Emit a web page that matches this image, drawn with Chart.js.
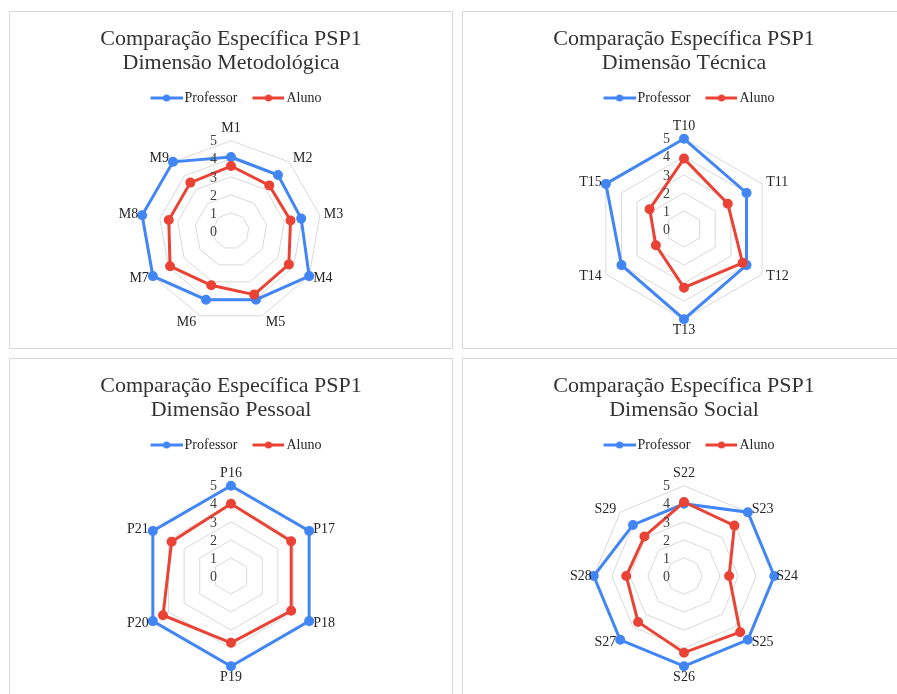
<!DOCTYPE html>
<html>
<head>
<meta charset="utf-8">
<script src="https://cdn.jsdelivr.net/npm/chart.js@4.4.0/dist/chart.umd.min.js"></script>
<style>
html, body { margin: 0; padding: 0; background: #fff; width: 897px; height: 694px; overflow: hidden; }
.panel { position: absolute; width: 442px; height: 336px; border: 1px solid #d9d9d9; background: #fff; }
.panel canvas { display: block; }
</style>
</head>
<body>
<div class="panel" style="left:9px;top:11px"><canvas id="chartMetod" width="442" height="336"></canvas></div>
<div class="panel" style="left:462px;top:11px"><canvas id="chartTecn" width="442" height="336"></canvas></div>
<div class="panel" style="left:9px;top:358px"><canvas id="chartPess" width="442" height="336"></canvas></div>
<div class="panel" style="left:462px;top:358px"><canvas id="chartSoc" width="442" height="336"></canvas></div>
<script>
'use strict';

// Dimensão Metodológica
const metodLabels = ['M1', 'M2', 'M3', 'M4', 'M5', 'M6', 'M7', 'M8', 'M9'];
const metodProfessor = [4.1, 4.05, 3.95, 5, 4.05, 4.05, 5, 5, 5];
const metodAluno = [3.6, 3.3, 3.35, 3.7, 3.75, 3.2, 3.9, 3.5, 3.5];

// Dimensão Técnica
const tecnLabels = ['T10', 'T11', 'T12', 'T13', 'T14', 'T15'];
const tecnProfessor = [5, 4, 4, 5, 4, 5];
const tecnAluno = [3.9, 2.8, 3.75, 3.25, 1.8, 2.2];

// Dimensão Pessoal
const pessLabels = ['P16', 'P17', 'P18', 'P19', 'P20', 'P21'];
const pessProfessor = [5, 5, 5, 5, 5, 5];
const pessAluno = [4.0, 3.85, 3.85, 3.7, 4.35, 3.8];

// Dimensão Social
const socLabels = ['S22', 'S23', 'S24', 'S25', 'S26', 'S27', 'S28', 'S29'];
const socProfessor = [4, 5, 5, 5, 5, 5, 5, 4];
const socAluno = [4.1, 3.95, 2.5, 4.4, 4.25, 3.6, 3.2, 3.1];

const scaleTicks = [0, 1, 2, 3, 4, 5];

const BLUE = '#4285F4';
const RED = '#EA4335';
const SERIF = '"Liberation Serif", "Times New Roman", serif';

// Excel-like legend marker: a line with a dot in the middle.
// Left part of the image is transparent so the line sits right before the text.
function legendMarker(color) {
    const c = document.createElement('canvas');
    c.width = 47;
    c.height = 10;
    const g = c.getContext('2d');
    g.strokeStyle = color;
    g.lineWidth = 3;
    g.beginPath();
    g.moveTo(15, 5);
    g.lineTo(47, 5);
    g.stroke();
    g.fillStyle = color;
    g.beginPath();
    g.arc(31, 5, 3.5, 0, Math.PI * 2);
    g.fill();
    return c;
}

// tick labels sit to the left of the vertical axis, like in Excel
const leftTickLabels = {
    id: 'leftTickLabels',
    afterDatasetsDraw(chart) {
        const r = chart.scales.r;
        const ctx = chart.ctx;
        ctx.save();
        ctx.font = '14px ' + SERIF;
        ctx.fillStyle = '#404040';
        ctx.textAlign = 'right';
        ctx.textBaseline = 'middle';
        for (const v of scaleTicks) {
            const d = r.getDistanceFromCenterForValue(v);
            ctx.fillText(String(v), r.xCenter - 14, r.yCenter - d + 1);
        }
        ctx.restore();
    }
};

// category labels placed next to the outer vertex, Excel style
// (chart.js keeps room for them through its own, transparent, point labels)
const excelPointLabels = {
    id: 'excelPointLabels',
    afterDatasetsDraw(chart) {
        const r = chart.scales.r;
        const ctx = chart.ctx;
        ctx.save();
        ctx.font = '14px ' + SERIF;
        ctx.fillStyle = '#262626';
        ctx.textBaseline = 'middle';
        chart.data.labels.forEach((label, i) => {
            const p = r.getPointPosition(i, r.drawingArea);
            const a = r.getIndexAngle(i);
            const s = Math.sin(a);
            const c = Math.cos(a);
            let x = p.x;
            let y = p.y;
            if (Math.abs(s) < 0.01) {
                ctx.textAlign = 'center';
                y += c > 0 ? -12.5 : 11.5;
            } else {
                ctx.textAlign = s > 0 ? 'left' : 'right';
                const dx = Math.abs(c) < 0.01 ? 2 : 4;
                x += s > 0 ? dx : -dx;
                y += Math.abs(c) > 0.9 ? -6.5 * c : -4 * c;
            }
            ctx.fillText(label, x, y);
        });
        ctx.restore();
    }
};

function makeRadar(id, subtitle, labels, professor, aluno, shift, bottomPad) {
    const markers = [legendMarker(BLUE), legendMarker(RED)];
    const n = labels.length;

    const data = {
        labels: labels,
        datasets: [
            {
                label: 'Professor', data: professor,
                borderColor: BLUE, backgroundColor: BLUE,
                pointBackgroundColor: BLUE, pointBorderColor: BLUE,
                borderWidth: 3, pointRadius: 3.5, fill: false, order: 1
            },
            {
                label: 'Aluno', data: aluno,
                borderColor: RED, backgroundColor: RED,
                pointBackgroundColor: RED, pointBorderColor: RED,
                borderWidth: 3, pointRadius: 3.5, fill: false, order: 0
            }
        ]
    };

    const config = {
        type: 'radar',
        data: data,
        plugins: [leftTickLabels, excelPointLabels],
        options: {
            responsive: false,
            animation: false,
            events: [],
            layout: { padding: { top: 0, bottom: bottomPad, left: 0, right: 0 } },
            plugins: {
                title: {
                    display: true,
                    text: ['Comparação Específica PSP1', subtitle],
                    color: '#333333',
                    font: { family: SERIF, size: 22, weight: 'normal', lineHeight: 1.09 },
                    padding: { top: 15, bottom: 11 }
                },
                legend: {
                    display: true,
                    labels: {
                        usePointStyle: true,
                        pointStyleWidth: 37,
                        boxHeight: 10,
                        padding: 5,
                        color: '#262626',
                        font: { family: SERIF, size: 14 },
                        generateLabels(chart) {
                            const items = Chart.defaults.plugins.legend.labels.generateLabels(chart);
                            for (const item of items) {
                                item.pointStyle = markers[item.datasetIndex];
                            }
                            return items;
                        },
                        sort: (a, b) => a.datasetIndex - b.datasetIndex
                    },
                    onClick: null
                },
                tooltip: { enabled: false }
            },
            scales: {
                r: {
                    min: 0,
                    max: 5,
                    startAngle: 0,
                    ticks: { stepSize: 1, display: false },
                    angleLines: { display: false },
                    grid: { color: '#d9d9d9', lineWidth: 1 },
                    pointLabels: {
                        color: 'rgba(0,0,0,0)',
                        // a little more room above than below nudges the centre down
                        padding: (ctx) => {
                            if (ctx.index === 0) return 5 + shift;
                            if (ctx.index * 2 === n) return 5 - shift;
                            return 5;
                        },
                        font: { family: SERIF, size: 14 }
                    }
                }
            }
        }
    };

    return new Chart(document.getElementById(id), config);
}

makeRadar('chartMetod', 'Dimensão Metodológica', metodLabels, metodProfessor, metodAluno, 0, 7);
makeRadar('chartTecn', 'Dimensão Técnica', tecnLabels, tecnProfessor, tecnAluno, 1, 5);
makeRadar('chartPess', 'Dimensão Pessoal', pessLabels, pessProfessor, pessAluno, 1, 5);
makeRadar('chartSoc', 'Dimensão Social', socLabels, socProfessor, socAluno, 1, 5);
</script>
</body>
</html>
